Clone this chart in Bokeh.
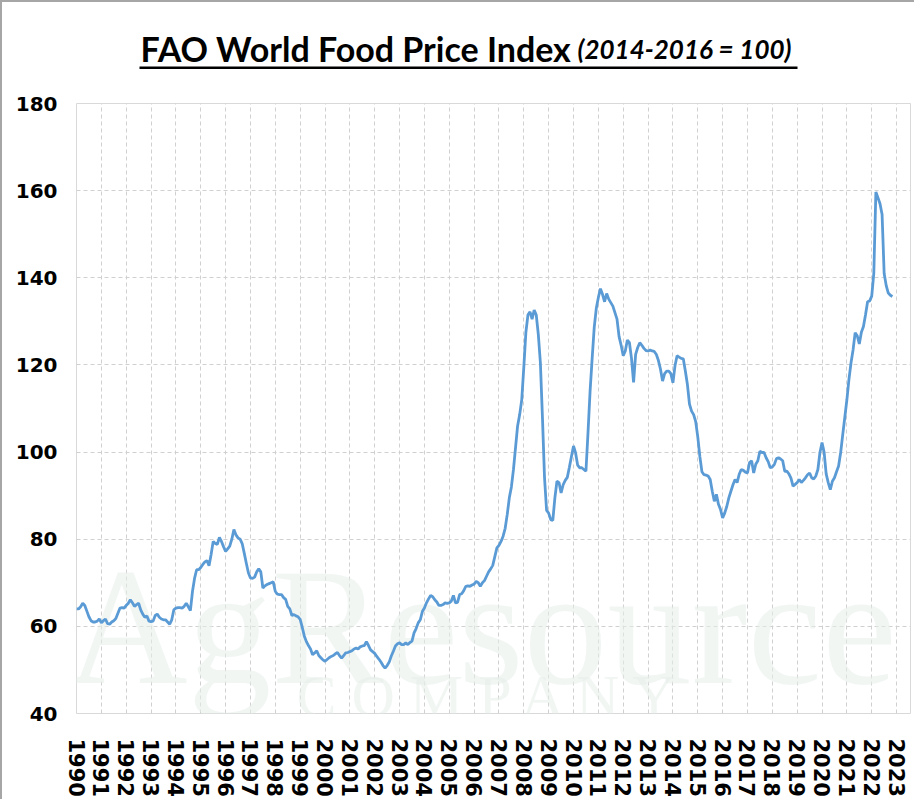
import math
from bokeh.plotting import figure
from bokeh.layouts import column
from bokeh.models import Range1d, FixedTicker, Label
from bokeh.core.properties import value
from bokeh.embed import file_html
from bokeh.resources import INLINE

# ---- data: FAO Food Price Index, monthly, Jan 1990 onward (2014-2016 = 100)
fpi_1990 = [64.0, 64.0, 64.5, 65.3, 64.8, 63.5, 62.2, 61.3, 61.0, 61.0, 61.2, 61.7]
fpi_1991 = [60.8, 61.3, 61.7, 60.6, 60.5, 61.0, 61.3, 61.8, 63.0, 64.2, 64.3, 64.2]
fpi_1992 = [64.8, 65.3, 66.1, 65.4, 64.6, 65.0, 65.3, 63.8, 62.8, 62.1, 62.4, 61.2]
fpi_1993 = [61.1, 61.2, 62.5, 62.8, 62.1, 61.7, 61.5, 61.5, 61.0, 60.5, 61.5, 63.8]
fpi_1994 = [64.2, 64.3, 64.3, 64.2, 64.6, 65.3, 64.5, 63.6, 68.0, 71.0, 73.0, 73.0]
fpi_1995 = [73.5, 74.2, 74.8, 75.1, 73.9, 76.5, 79.5, 79.0, 78.8, 80.4, 79.5, 78.3]
fpi_1996 = [77.2, 77.8, 78.4, 80.0, 82.2, 81.0, 80.3, 80.0, 79.0, 76.8, 74.5, 72.3]
fpi_1997 = [71.1, 71.0, 71.3, 72.5, 73.2, 72.5, 68.8, 69.3, 69.6, 69.8, 70.0, 70.2]
fpi_1998 = [68.0, 67.4, 67.3, 67.3, 66.6, 66.2, 64.6, 64.0, 62.5, 62.7, 62.4, 62.2]
fpi_1999 = [61.6, 59.8, 57.8, 56.5, 55.6, 54.8, 53.5, 53.9, 54.4, 53.3, 52.8, 52.3]
fpi_2000 = [52.0, 52.4, 52.8, 53.1, 53.3, 53.7, 54.0, 53.3, 52.7, 53.3, 53.9, 54.0]
fpi_2001 = [54.2, 54.4, 54.8, 55.0, 54.8, 55.3, 55.5, 55.6, 56.5, 55.6, 54.6, 54.2]
fpi_2002 = [53.8, 53.1, 52.5, 51.8, 51.0, 50.4, 51.0, 51.8, 53.2, 54.3, 55.5, 56.0]
fpi_2003 = [56.2, 55.8, 55.8, 56.2, 55.8, 56.3, 56.6, 58.5, 59.5, 60.8, 61.5, 63.4]
fpi_2004 = [64.2, 65.4, 66.3, 67.1, 66.8, 66.1, 65.6, 64.8, 64.8, 65.0, 65.4, 65.3]
fpi_2005 = [65.4, 65.8, 67.1, 65.4, 65.5, 67.3, 67.5, 68.2, 69.2, 69.3, 69.2, 69.5]
fpi_2006 = [69.7, 70.3, 70.0, 69.2, 70.0, 70.5, 71.5, 72.5, 73.2, 74.0, 76.0, 78.0]
fpi_2007 = [78.6, 79.5, 80.7, 82.5, 85.7, 89.5, 92.0, 96.0, 101.0, 106.0, 108.6, 112.0]
fpi_2008 = [119.5, 127.5, 131.5, 132.2, 130.5, 132.6, 131.5, 127.0, 120.5, 107.9, 94.1, 86.6]
fpi_2009 = [86.0, 84.5, 84.3, 89.5, 93.3, 93.0, 90.6, 92.5, 93.5, 94.2, 96.5, 99.0]
fpi_2010 = [101.4, 99.8, 97.0, 96.4, 96.4, 96.0, 95.6, 104.5, 114.0, 121.5, 128.6, 133.0]
fpi_2011 = [135.5, 137.5, 136.2, 134.5, 136.4, 135.1, 134.3, 133.5, 132.0, 130.5, 126.5, 124.5]
fpi_2012 = [122.1, 123.2, 125.7, 125.1, 121.5, 116.0, 122.4, 124.0, 125.1, 124.5, 123.8, 123.3]
fpi_2013 = [123.2, 123.4, 123.2, 123.1, 122.4, 121.0, 119.0, 116.3, 118.0, 118.6, 118.6, 118.0]
fpi_2014 = [115.9, 119.8, 122.1, 121.8, 121.5, 121.4, 118.6, 115.5, 111.0, 109.4, 108.6, 107.0]
fpi_2015 = [103.5, 99.0, 95.5, 94.8, 94.7, 94.5, 93.7, 91.0, 88.7, 90.3, 88.0, 86.8]
fpi_2016 = [84.9, 86.0, 87.5, 89.5, 91.0, 92.5, 93.7, 93.0, 94.9, 96.0, 95.8, 95.4]
fpi_2017 = [95.2, 97.6, 98.0, 95.2, 97.2, 98.0, 100.2, 99.9, 99.9, 98.7, 97.8, 96.4]
fpi_2018 = [96.6, 97.2, 98.5, 98.7, 98.4, 98.0, 95.6, 95.6, 95.0, 94.0, 92.2, 92.6]
fpi_2019 = [93.0, 93.7, 93.0, 93.5, 94.1, 94.8, 95.2, 94.1, 93.8, 94.5, 96.0, 99.9]
fpi_2020 = [102.2, 100.0, 95.0, 93.0, 91.4, 93.3, 94.1, 95.5, 96.8, 99.9, 104.0, 108.0]
fpi_2021 = [112.0, 116.7, 120.5, 123.5, 127.4, 126.7, 124.8, 127.5, 128.8, 131.5, 134.5, 134.7]
fpi_2022 = [135.8, 141.0, 159.7, 158.4, 157.0, 154.5, 141.0, 138.2, 136.5, 136.0, 135.7]

year_labels = [str(y) for y in range(1990, 2024)]
y_ticks = [40, 60, 80, 100, 120, 140, 160, 180]

title_main = "FAO World Food Price Index"
title_sub = "(2014-2016 = 100)"

series = (fpi_1990 + fpi_1991 + fpi_1992 + fpi_1993 + fpi_1994 + fpi_1995 + fpi_1996
          + fpi_1997 + fpi_1998 + fpi_1999 + fpi_2000 + fpi_2001 + fpi_2002 + fpi_2003
          + fpi_2004 + fpi_2005 + fpi_2006 + fpi_2007 + fpi_2008 + fpi_2009 + fpi_2010
          + fpi_2011 + fpi_2012 + fpi_2013 + fpi_2014 + fpi_2015 + fpi_2016 + fpi_2017
          + fpi_2018 + fpi_2019 + fpi_2020 + fpi_2021 + fpi_2022)
xs = [1990 + i / 12.0 for i in range(len(series))]

W = 912
TH = 85                 # title strip height
FL, FT, FB, FR = 74, 16, 86, 4
H = 797 - TH

# ---------- title strip (canvas pixel coordinates, y downward)
tf = figure(width=W, height=TH, output_backend="svg", toolbar_location=None,
            x_range=Range1d(FL, W - FR), y_range=Range1d(TH, 0),
            x_axis_type=None, y_axis_type=None,
            min_border_left=FL, min_border_right=FR, min_border_top=0, min_border_bottom=0)
tf.grid.visible = False
tf.outline_line_color = None
tf.background_fill_color = "white"
tf.border_fill_color = "white"
tf.text(x=[138], y=[46], text=[title_main], text_font=value("Lato"),
        text_font_style="bold", text_font_size="34px", text_color="black",
        text_baseline="alphabetic", text_align="left")
tf.text(x=[575], y=[46], text=[title_sub], text_font=value("Lato"),
        text_font_style="bold italic", text_font_size="26px", text_color="black",
        text_baseline="alphabetic", text_align="left")
tf.quad(left=[137], right=[795], top=[64], bottom=[66.5], fill_color="black", line_color=None)

# ---------- main chart
p = figure(width=W, height=H, output_backend="svg", toolbar_location=None,
           x_range=Range1d(1990, 2023.56), y_range=Range1d(40, 180),
           min_border_left=FL, min_border_right=FR, min_border_top=FT, min_border_bottom=FB)
p.background_fill_color = "white"
p.border_fill_color = "white"
p.outline_line_color = "#d9d9d9"
p.outline_line_width = 1

FH = H - FT - FB

# watermark (inside plot area)
p.add_layout(Label(x=405, y=FH - 522, x_units="screen", y_units="screen",
                   text="AgResource", text_align="center", text_baseline="alphabetic",
                   text_font="Liberation Serif", text_font_size="168px",
                   text_color="#e6eeea", text_alpha=0.55, level="underlay"))
p.add_layout(Label(x=415, y=FH - 592, x_units="screen", y_units="screen",
                   text="C O M P A N Y", text_align="center", text_baseline="alphabetic",
                   text_font="Liberation Serif", text_font_size="60px",
                   text_color="#e6eeea", text_alpha=0.55, level="underlay"))

p.line(xs, series, line_color="#5b9bd5", line_width=2.8)

ticks_x = [int(s) for s in year_labels]
p.xaxis.ticker = FixedTicker(ticks=ticks_x)
p.xaxis.major_label_overrides = {int(s): s for s in year_labels}
p.xaxis.major_label_orientation = -math.pi / 2
p.yaxis.ticker = FixedTicker(ticks=y_ticks)
for ax in (p.xaxis, p.yaxis):
    ax.axis_line_color = None
    ax.major_tick_line_color = None
    ax.minor_tick_line_color = None
    ax.major_label_text_font = "DejaVu Sans"
    ax.major_label_text_font_style = "bold"
    ax.major_label_text_color = "black"
p.xaxis.major_label_text_font_size = "21px"
p.yaxis.major_label_text_font_size = "20px"
p.xaxis.major_label_standoff = 19
p.yaxis.major_label_standoff = 13

p.xgrid.ticker = FixedTicker(ticks=ticks_x)
p.ygrid.ticker = FixedTicker(ticks=y_ticks)
for g in (p.xgrid, p.ygrid):
    g.grid_line_color = "#d0d0d0"
    g.grid_line_dash = "4 3"
    g.grid_line_width = 1

layout = column(tf, p, spacing=0,
                styles={"border-left": "2px solid #a6a6a6", "border-top": "2px solid #a6a6a6"})
open("out.html", "w").write(file_html(layout, INLINE))
